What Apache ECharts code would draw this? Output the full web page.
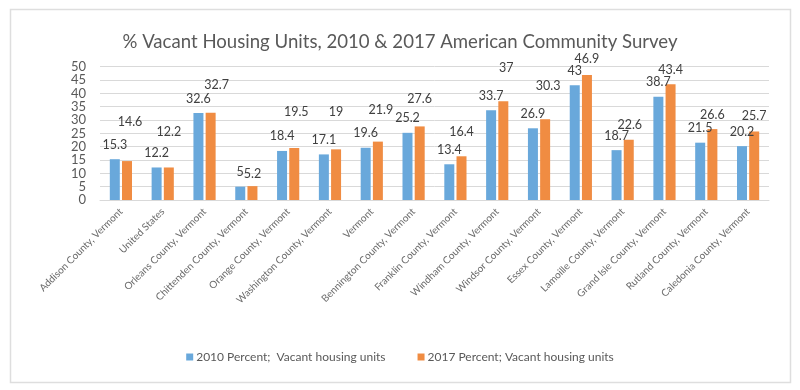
<!DOCTYPE html>
<html>
<head>
<meta charset="utf-8">
<script src="https://cdn.jsdelivr.net/npm/echarts@6/dist/echarts.min.js"></script>
<style>
html,body{margin:0;padding:0;background:#fff;}
#chart{width:800px;height:390px;}
</style>
</head>
<body>
<div id="chart"></div>
<script>
// ---- data ----
const categories = [
  "Addison County, Vermont", "United States", "Orleans County, Vermont",
  "Chittenden County, Vermont", "Orange County, Vermont", "Washington County, Vermont",
  "Vermont", "Bennington County, Vermont", "Franklin County, Vermont",
  "Windham County, Vermont", "Windsor County, Vermont", "Essex County, Vermont",
  "Lamoille County, Vermont", "Grand Isle County, Vermont", "Rutland County, Vermont",
  "Caledonia County, Vermont"
];
const values2010 = [15.3, 12.2, 32.6, 5, 18.4, 17.1, 19.6, 25.2, 13.4, 33.7, 26.9, 43, 18.7, 38.7, 21.5, 20.2];
const values2017 = [14.6, 12.2, 32.7, 5.2, 19.5, 19, 21.9, 27.6, 16.4, 37, 30.3, 46.9, 22.6, 43.4, 26.6, 25.7];
const seriesNames = ["2010 Percent;  Vacant housing units", "2017 Percent; Vacant housing units"];
const yTicks = [0, 5, 10, 15, 20, 25, 30, 35, 40, 45, 50];

// ---- layout only: hand-placed label nudges for the 2017 labels (px) ----
const label2017Distance = [33, 29, 21, 6, 30, 31, 25, 21, 18, 27, 27, 9, 8, 8, 8, 9];
const label2017ShiftX  = [3, 0, 6, 0, 2, 0, 3, 0, 0, 3, 3, 0, 1, 0, 0, 0];

const FONT = 'Lato, "Open Sans", sans-serif';
const TXT = '#595959';

const chart = echarts.init(document.getElementById('chart'), null, {renderer: 'canvas'});

const data2017 = values2017.map((v, i) => ({
  value: v,
  label: { distance: label2017Distance[i], offset: [label2017ShiftX[i], 0] }
}));

chart.setOption({
  backgroundColor: '#fff',
  animation: false,
  title: {
    text: '% Vacant Housing Units, 2010 & 2017 American Community Survey',
    left: 'center', top: 27,
    textStyle: { fontFamily: FONT, fontSize: 18.6, fontWeight: 'normal', color: TXT }
  },
  graphic: [{
    type: 'rect', left: 8, top: 7, silent: true,
    shape: { width: 780, height: 373 },
    style: { fill: 'none', stroke: '#dedede', lineWidth: 1.5 }
  }],
  legend: {
    data: seriesNames,
    bottom: 22, left: 'center',
    itemWidth: 7, itemHeight: 7, itemGap: 32,
    icon: 'rect',
    textStyle: { fontFamily: FONT, fontSize: 12, color: TXT, padding: [0, 0, 0, -2] }
  },
  grid: { left: 100, right: 31, top: 66.7, bottom: 190, containLabel: false },
  xAxis: {
    type: 'category',
    data: categories,
    axisLine: { lineStyle: { color: '#d9d9d9' } },
    axisTick: { show: false },
    axisLabel: { rotate: 45, interval: 0, margin: 10, fontFamily: FONT, fontSize: 10, color: '#6b6b6b' }
  },
  yAxis: {
    type: 'value', min: yTicks[0], max: yTicks[yTicks.length - 1], interval: yTicks[1] - yTicks[0],
    axisLine: { show: false }, axisTick: { show: false },
    splitLine: { lineStyle: { color: '#d9d9d9' } },
    axisLabel: { margin: 14, fontFamily: FONT, fontSize: 13, color: TXT }
  },
  series: [{
    name: seriesNames[0], type: 'bar', data: values2010,
    barWidth: 10, barGap: '22%',
    itemStyle: { color: '#69A8DB' },
    label: { show: true, position: 'top', distance: 8, fontFamily: FONT, fontSize: 12.5, color: '#404040' }
  }, {
    name: seriesNames[1], type: 'bar', data: data2017,
    barWidth: 10,
    itemStyle: { color: '#F08C42' },
    label: { show: true, position: 'top', distance: 8, fontFamily: FONT, fontSize: 12.5, color: '#404040' }
  }]
});
</script>
</body>
</html>
